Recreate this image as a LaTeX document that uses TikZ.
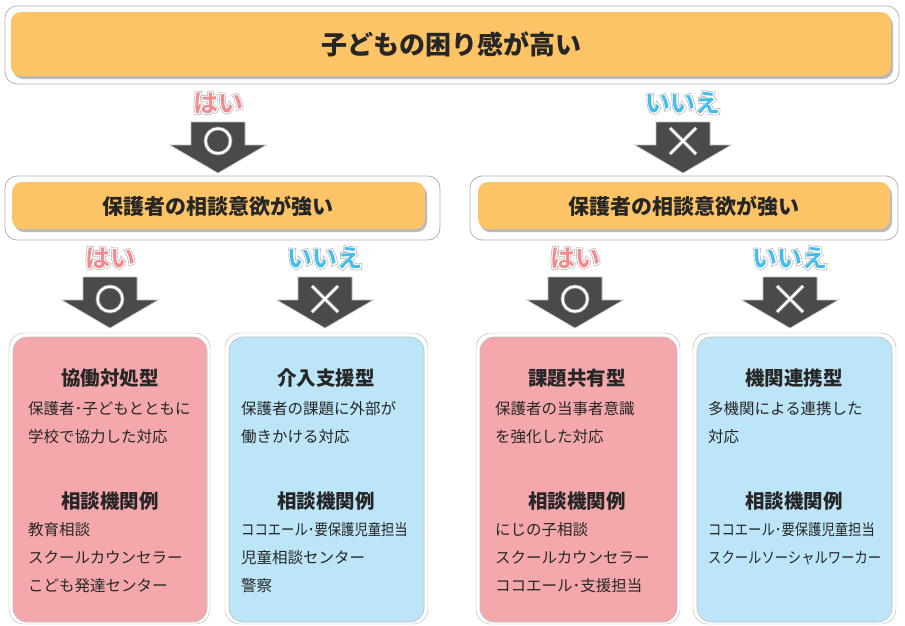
\documentclass[tikz,border=0pt]{standalone}
\usepackage{fontspec}
\setmainfont{Noto Sans CJK JP}
\newfontfamily\ynwhite{Noto Sans CJK JP Bold}[FakeBold=9]
\newfontfamily\yngray{Noto Sans CJK JP Bold}[FakeBold=14]
\newfontfamily\ynplain{Noto Sans CJK JP Bold}
\usetikzlibrary{shadows}
\definecolor{orangeF}{HTML}{FCC467}
\definecolor{pinkF}{HTML}{F4A8AC}
\definecolor{blueF}{HTML}{BDE5F8}
\definecolor{arrowF}{HTML}{4A4A4A}
\definecolor{haiC}{HTML}{F28B8D}
\definecolor{iieC}{HTML}{45BDEB}
\definecolor{txt}{HTML}{262626}
\begin{document}
\begin{tikzpicture}[x=1pt,y=-1pt,
  outerbox/.style={draw=black!30, fill=white, rounded corners=12, line width=0.8},
  orangebox/.style={fill=orangeF, rounded corners=10, drop shadow={shadow xshift=2pt,shadow yshift=-3pt,opacity=0.45,fill=black!60}},
  card/.style={rounded corners=14, draw=black!25, line width=0.6},
  cardrim/.style={draw=black!30, fill=white, rounded corners=15},
  pinkcard/.style={card, fill=pinkF},
  bluecard/.style={card, fill=blueF},
  head/.style={font=\bfseries\fontsize{21}{23}\selectfont, text=txt},
  bighead/.style={font=\bfseries\fontsize{26}{28}\selectfont, text=txt},
  title/.style={font=\bfseries\fontsize{19.5}{22}\selectfont, text=txt},
  body/.style={font=\fontsize{15.5}{17}\selectfont, text=txt, anchor=west, inner sep=0},
  ynbackg/.style={font=\yngray\fontsize{25}{27}\selectfont, text=black!30},
  ynbackw/.style={font=\ynwhite\fontsize{25}{27}\selectfont, text=white},
  yn/.style={font=\ynplain\fontsize{25}{27}\selectfont},
  darrow/.pic={
    \fill[arrowF, draw=black!25, line width=0.6] (-27,0) -- (27,0) -- (27,23) -- (48,23) -- (0,51) -- (-48,23) -- (-27,23) -- cycle;
  },
  okmark/.pic={
    \draw[black!45, line width=4] (0,0) circle (12.5);
    \draw[white, line width=2.4] (0,0) circle (12.5);
  },
  ngmark/.pic={
    \draw[black!45, line width=4] (-13,-13) -- (13,13) (13,-13) -- (-13,13);
    \draw[white, line width=2.4] (-13,-13) -- (13,13) (13,-13) -- (-13,13);
  }
]
\useasboundingbox (0,0) rectangle (905,625);

% top box
\draw[outerbox] (5,6) rectangle (899,84);
\path[orangebox] (11,12) rectangle (891,76);
\node[bighead] (q1) at (451,44) {子どもの困り感が高い};

% first-level arrows
\node[ynbackg] (h1g) at (218,103) {はい};
\node[ynbackw] (h1w) at (218,103) {はい};
\node[yn, text=haiC] (h1) at (218,103) {はい};
\node[ynbackg] (n1g) at (683,103) {いいえ};
\node[ynbackw] (n1w) at (683,103) {いいえ};
\node[yn, text=iieC] (n1) at (683,103) {いいえ};
\pic at (218,122) {darrow};
\pic at (218,141) {okmark};
\pic at (683,122) {darrow};
\pic at (683,141) {ngmark};

% second-level boxes
\draw[outerbox] (5,176) rectangle (440,240);
\path[orangebox] (12,182) rectangle (425,229);
\node[head] (q2l) at (218,206) {保護者の相談意欲が強い};
\draw[outerbox] (470,176) rectangle (898,240);
\path[orangebox] (478,182) rectangle (890,229);
\node[head] (q2r) at (684,206) {保護者の相談意欲が強い};

% second-level arrows
\foreach \x/\nm in {110/a,575/c}{
  \node[ynbackg] (h2g\nm) at (\x,258) {はい};
  \node[ynbackw] (h2w\nm) at (\x,258) {はい};
  \node[yn, text=haiC] (h2\nm) at (\x,258) {はい};
  \pic at (\x,277) {darrow};
  \pic at (\x,299) {okmark};
}
\foreach \x/\nm in {325/b,790/d}{
  \node[ynbackg] (n2g\nm) at (\x,258) {いいえ};
  \node[ynbackw] (n2w\nm) at (\x,258) {いいえ};
  \node[yn, text=iieC] (n2\nm) at (\x,258) {いいえ};
  \pic at (\x,277) {darrow};
  \pic at (\x,299) {ngmark};
}

% cards
\draw[cardrim] (9,333) rectangle (210,624);
\draw[pinkcard] (13,337) rectangle (207,622);
\draw[cardrim] (225,333) rectangle (428,624);
\draw[bluecard] (229,337) rectangle (424,622);
\draw[cardrim] (476,333) rectangle (680,624);
\draw[pinkcard] (480,337) rectangle (677,622);
\draw[cardrim] (693,333) rectangle (896,624);
\draw[bluecard] (697,337) rectangle (892,622);

% card 1
\node[title] (t1) at (110,378) {協働対処型};
\node[body] (t1a) at (28,409) {保護者･子どもとともに};
\node[body] (t1b) at (28,437) {学校で協力した対応};
\node[title] (e1) at (110,501) {相談機関例};
\node[body] (e1a) at (28,530) {教育相談};
\node[body] (e1b) at (28,558) {スクールカウンセラー};
\node[body] (e1c) at (28,586) {こども発達センター};

% card 2
\node[title] (t2) at (326,378) {介入支援型};
\node[body] (t2a) at (241,409) {保護者の課題に外部が};
\node[body] (t2b) at (241,437) {働きかける対応};
\node[title] (e2) at (326,501) {相談機関例};
\node[body] (e2a) at (241,530) {\scalebox{0.86}[1]{ココエール･要保護児童担当}};
\node[body] (e2b) at (241,558) {児童相談センター};
\node[body] (e2c) at (241,586) {警察};

% card 3
\node[title] (t3) at (577,378) {課題共有型};
\node[body] (t3a) at (495,409) {保護者の当事者意識};
\node[body] (t3b) at (495,437) {を強化した対応};
\node[title] (e3) at (577,501) {相談機関例};
\node[body] (e3a) at (495,530) {にじの子相談};
\node[body] (e3b) at (495,558) {スクールカウンセラー};
\node[body] (e3c) at (495,586) {ココエール･支援担当};

% card 4
\node[title] (t4) at (794,378) {機関連携型};
\node[body] (t4a) at (708,409) {多機関による連携した};
\node[body] (t4b) at (708,437) {対応};
\node[title] (e4) at (794,501) {相談機関例};
\node[body] (e4a) at (708,530) {\scalebox{0.86}[1]{ココエール･要保護児童担当}};
\node[body] (e4b) at (708,558) {\scalebox{0.86}[1]{スクールソーシャルワーカー}};
\end{tikzpicture}
\end{document}
